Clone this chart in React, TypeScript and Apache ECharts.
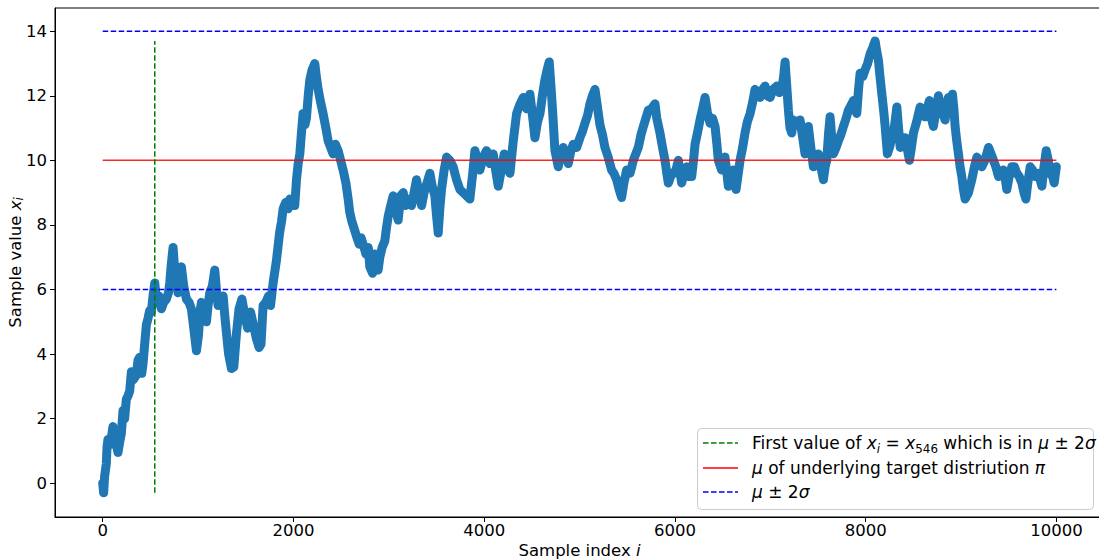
import React, { useEffect, useRef } from 'react';
import * as echarts from 'echarts';

// Trace of the sampler: sample index i and the value x_i
const sampleIndex = [
  0, 10, 20, 38, 45, 55, 80, 108, 130, 160, 180, 196, 213, 230, 248, 265, 283, 301, 320, 353,
  370, 388, 410, 423, 440, 458, 475, 493, 510, 528, 546, 563, 590, 616, 640, 668, 690, 703, 720, 738,
  755, 775, 790, 810, 825, 850, 878, 905, 930, 955, 983, 1005, 1020, 1035, 1060, 1088, 1105, 1123, 1150, 1175,
  1195, 1210, 1240, 1263, 1280, 1298, 1320, 1350, 1375, 1403, 1430, 1460, 1490, 1520, 1550, 1580, 1610, 1640, 1660, 1682,
  1710, 1740, 1760, 1787, 1822, 1845, 1857, 1875, 1892, 1920, 1945, 1962, 1990, 2014, 2032, 2050, 2067, 2084, 2101, 2120,
  2136, 2155, 2172, 2195, 2224, 2240, 2259, 2285, 2311, 2340, 2364, 2390, 2416, 2440, 2469, 2495, 2521, 2550, 2574, 2590,
  2609, 2635, 2661, 2690, 2710, 2731, 2760, 2785, 2801, 2830, 2853, 2870, 2888, 2906, 2930, 2958, 2975, 2993, 3020, 3046,
  3070, 3098, 3125, 3151, 3175, 3200, 3238, 3265, 3291, 3315, 3344, 3370, 3400, 3431, 3455, 3483, 3500, 3518, 3535, 3553,
  3580, 3606, 3640, 3675, 3710, 3745, 3780, 3815, 3850, 3880, 3903, 3930, 3955, 3990, 4025, 4060, 4095, 4120, 4148, 4180,
  4210, 4235, 4270, 4305, 4340, 4370, 4410, 4445, 4480, 4510, 4532, 4560, 4585, 4610, 4637, 4660, 4682, 4700, 4717, 4742,
  4777, 4800, 4829, 4855, 4882, 4910, 4934, 4970, 5004, 5030, 5057, 5085, 5109, 5135, 5162, 5190, 5214, 5240, 5266, 5300,
  5336, 5360, 5389, 5415, 5441, 5465, 5494, 5530, 5564, 5590, 5616, 5645, 5669, 5695, 5721, 5755, 5791, 5810, 5843, 5870,
  5896, 5915, 5931, 5955, 5983, 6010, 6036, 6055, 6071, 6095, 6123, 6150, 6176, 6195, 6211, 6240, 6263, 6290, 6316, 6340,
  6368, 6395, 6421, 6440, 6455, 6490, 6525, 6545, 6560, 6590, 6613, 6641, 6660, 6683, 6710, 6735, 6760, 6788, 6815, 6840,
  6865, 6893, 6920, 6945, 6970, 6998, 7030, 7068, 7095, 7120, 7140, 7155, 7175, 7190, 7207, 7225, 7242, 7277, 7312, 7340,
  7364, 7380, 7399, 7425, 7452, 7480, 7504, 7530, 7557, 7575, 7592, 7610, 7627, 7645, 7662, 7690, 7714, 7740, 7767, 7795,
  7819, 7845, 7872, 7890, 7907, 7925, 7942, 7970, 7994, 8020, 8047, 8075, 8099, 8115, 8134, 8150, 8170, 8190, 8204, 8228,
  8250, 8274, 8300, 8327, 8345, 8362, 8390, 8414, 8440, 8459, 8480, 8501, 8535, 8571, 8600, 8623, 8645, 8668, 8690, 8710,
  8735, 8763, 8790, 8833, 8850, 8868, 8890, 8910, 8925, 8938, 8955, 8973, 8990, 9008, 9025, 9043, 9060, 9078, 9095, 9113,
  9140, 9166, 9190, 9218, 9250, 9288, 9315, 9340, 9365, 9393, 9420, 9445, 9465, 9480, 9505, 9533, 9560, 9585, 9610, 9638,
  9660, 9680, 9700, 9725, 9750, 9778, 9810, 9848, 9870, 9893, 9915, 9935, 9960, 9977, 9999,
];
const sampleValue = [
  0.0, -0.3, 0.2, 0.6, 1.1, 1.35, 1.2, 1.75, 1.4, 0.95, 1.3, 1.55, 2.25, 2.0, 2.6, 2.7, 2.85, 3.45, 3.2, 3.35,
  3.8, 3.9, 3.4, 3.7, 4.3, 4.9, 5.1, 5.35, 5.3, 5.8, 6.2, 5.7, 5.8, 5.4, 5.6, 5.7, 5.9, 6.2, 6.8, 7.3,
  6.6, 6.3, 5.9, 6.4, 6.7, 6.1, 5.7, 5.6, 5.4, 4.8, 4.1, 4.6, 5.3, 5.6, 5.2, 5.0, 5.5, 5.9, 6.1, 6.6,
  5.9, 5.5, 5.7, 5.8, 5.2, 4.65, 4.0, 3.55, 3.6, 4.65, 5.4, 5.7, 5.2, 4.8, 5.3, 4.9, 4.5, 4.2, 4.3, 5.5,
  5.6, 5.8, 5.5, 6.2, 6.9, 7.5, 7.8, 8.1, 8.5, 8.7, 8.5, 8.8, 8.6, 8.6, 9.4, 9.9, 10.2, 10.85, 11.45, 11.1,
  11.3, 12.0, 12.5, 12.8, 13.0, 12.6, 12.2, 11.8, 11.45, 11.0, 10.6, 10.4, 10.2, 10.5, 10.3, 10.0, 9.7, 9.3, 8.8, 8.4,
  8.15, 7.9, 7.65, 7.4, 7.6, 7.4, 7.1, 7.3, 6.7, 6.5, 7.1, 6.8, 6.6, 7.0, 7.3, 7.5, 7.9, 8.25, 8.6, 8.9,
  8.5, 8.15, 8.9, 9.0, 8.6, 8.8, 8.6, 9.0, 9.4, 9.0, 8.6, 9.0, 9.3, 9.6, 9.2, 8.9, 8.3, 7.75, 8.5, 9.1,
  9.7, 10.1, 10.0, 9.8, 9.4, 9.1, 9.0, 8.9, 8.8, 9.6, 10.3, 10.0, 9.7, 10.1, 10.3, 9.9, 10.2, 9.7, 9.2, 9.7,
  10.2, 9.8, 9.6, 10.6, 11.45, 11.7, 11.95, 11.6, 12.05, 11.3, 10.7, 11.2, 11.45, 12.0, 12.5, 12.8, 13.05, 12.3, 11.55, 10.3,
  9.8, 10.2, 10.4, 10.1, 9.9, 10.3, 10.5, 10.4, 10.7, 10.9, 11.15, 11.4, 11.75, 12.0, 12.2, 11.6, 11.1, 10.8, 10.4, 10.1,
  9.7, 9.6, 9.4, 9.1, 8.85, 9.3, 9.7, 9.6, 10.0, 10.2, 10.4, 10.8, 11.05, 11.3, 11.55, 11.6, 11.75, 11.3, 10.85, 10.4,
  10.0, 9.6, 9.3, 9.5, 9.6, 9.7, 10.0, 9.6, 9.3, 9.6, 9.8, 9.5, 9.5, 10.0, 10.5, 10.9, 11.25, 11.6, 11.95, 11.5,
  11.15, 11.3, 11.05, 10.5, 10.0, 9.7, 10.1, 9.6, 9.2, 9.6, 9.7, 9.1, 9.5, 10.0, 10.4, 10.85, 11.2, 11.45, 11.8, 12.2,
  12.0, 11.95, 12.2, 12.3, 12.0, 11.95, 12.2, 12.3, 12.1, 12.2, 12.6, 13.05, 12.2, 11.55, 11.0, 10.85, 11.25, 11.15, 11.25, 10.7,
  10.2, 10.6, 11.05, 10.4, 9.8, 10.0, 10.2, 9.8, 9.4, 9.8, 10.0, 10.8, 11.35, 10.7, 10.2, 10.4, 10.6, 10.8, 11.05, 11.3,
  11.55, 11.7, 11.85, 11.6, 11.45, 12.2, 12.7, 12.6, 12.8, 13.0, 13.3, 13.5, 13.7, 13.4, 13.1, 12.6, 12.05, 11.5, 11.05, 10.2,
  10.4, 10.7, 11.0, 11.65, 11.0, 10.4, 10.6, 10.7, 10.3, 10.0, 10.4, 10.85, 11.2, 11.65, 11.4, 11.35, 11.6, 11.85, 11.3, 11.05,
  11.5, 12.0, 11.6, 11.25, 11.7, 11.95, 11.8, 12.05, 11.6, 11.05, 10.6, 10.2, 9.8, 9.5, 9.1, 8.8, 8.9, 9.0, 9.2, 9.4,
  9.8, 10.1, 10.0, 9.8, 10.0, 10.4, 10.2, 10.0, 9.8, 9.5, 9.6, 9.7, 9.4, 9.1, 9.5, 9.8, 9.8, 9.6, 9.5, 9.3,
  9.0, 8.8, 9.3, 9.8, 9.7, 9.5, 9.6, 9.2, 9.8, 10.3, 10.0, 9.6, 9.5, 9.3, 9.8,
];

const mu = 10;
const sigma = 2;
const firstInBandIndex = 546;
const nSamples = 10000;
const xTicks = [0, 2000, 4000, 6000, 8000, 10000];
const yTicks = [0, 2, 4, 6, 8, 10, 12, 14];

const FONT = 'DejaVu Sans';
const FS = 16.5;

const makeRich = (fs: number, lh: number) => ({
  n: { fontFamily: FONT, fontSize: fs, color: '#000', lineHeight: lh },
  m: { fontFamily: FONT, fontSize: fs, color: '#000', fontStyle: 'italic', lineHeight: lh },
  s: { fontFamily: FONT, fontSize: fs * 0.7, color: '#000', fontStyle: 'italic', lineHeight: fs * 0.7, verticalAlign: 'bottom' },
  d: { fontFamily: FONT, fontSize: fs * 0.7, color: '#000', lineHeight: fs * 0.7, verticalAlign: 'bottom' },
});
const axisRich = makeRich(FS, 19);
const legendRich = makeRich(17, 24);

export default function App() {
  const ref = useRef<HTMLDivElement>(null);

  useEffect(() => {
    if (!ref.current) return;
    const chart = echarts.init(ref.current, undefined, { renderer: 'svg' });
    const trace = sampleIndex.map((x, k) => [x, sampleValue[k]]);
    const vMin = Math.min(...sampleValue);
    const vMax = Math.max(...sampleValue);

    const axisCommon = {
      type: 'value' as const,
      splitLine: { show: false },
      axisLine: { show: true, onZero: false, lineStyle: { color: '#000', width: 1 } },
      nameMoveOverlap: false,
    };

    chart.setOption({
      animation: false,
      grid: {
        left: 55, top: 8, width: 1049, height: 509,
        containLabel: false,
        outerBoundsMode: 'none',
        show: true, borderColor: '#000', borderWidth: 1, backgroundColor: 'transparent',
      },
      xAxis: {
        ...axisCommon,
        min: -500, max: 10499,
        axisTick: { show: true, customValues: xTicks, length: 5, lineStyle: { color: '#000' } },
        axisLabel: {
          customValues: xTicks, color: '#000', fontSize: FS, fontFamily: FONT, margin: 5,
          formatter: (v: number) => String(v),
        },
        name: '{n|Sample index }{m|i}',
        nameLocation: 'middle',
        nameGap: 24,
        nameTextStyle: { rich: axisRich },
      },
      yAxis: {
        ...axisCommon,
        min: -1.05, max: 14.72,
        axisTick: { show: true, customValues: yTicks, length: 5, lineStyle: { color: '#000' } },
        axisLabel: {
          customValues: yTicks, color: '#000', fontSize: FS, fontFamily: FONT, margin: 8,
          formatter: (v: number) => String(v),
        },
        name: '{n|Sample value }{m|x}{s|i}',
        nameLocation: 'middle',
        nameGap: 30,
        nameTextStyle: { rich: axisRich },
      },
      series: [
        {
          type: 'line', data: trace, symbol: 'none', silent: true, z: 2,
          lineStyle: { color: '#1f77b4', width: 9, cap: 'round', join: 'round' },
        },
        {
          type: 'line', data: [[0, mu], [nSamples, mu]], symbol: 'none', silent: true, z: 3,
          lineStyle: { color: '#ff0000', width: 1.5, opacity: 0.85 },
        },
        {
          type: 'line', data: [[0, mu + 2 * sigma], [nSamples, mu + 2 * sigma]], symbol: 'none', silent: true, z: 3,
          lineStyle: { color: '#0000ff', width: 1.5, type: [5.5, 2.5] },
        },
        {
          type: 'line', data: [[0, mu - 2 * sigma], [nSamples, mu - 2 * sigma]], symbol: 'none', silent: true, z: 3,
          lineStyle: { color: '#0000ff', width: 1.5, type: [5.5, 2.5] },
        },
        {
          type: 'line', data: [[firstInBandIndex, vMin], [firstInBandIndex, vMax]], symbol: 'none', silent: true, z: 3,
          lineStyle: { color: '#008000', width: 1.5, type: [5.5, 2.5] },
        },
      ],
      graphic: [
        {
          type: 'rect', left: 697, top: 428, z: 10,
          shape: { width: 396, height: 81, r: 4 },
          style: { fill: 'rgba(255,255,255,0.8)', stroke: '#cccccc', lineWidth: 1 },
        },
        { type: 'line', z: 11, shape: { x1: 703, y1: 443, x2: 738, y2: 443 }, style: { stroke: '#008000', lineWidth: 1.5, lineDash: [5.5, 2.5] } },
        { type: 'line', z: 11, shape: { x1: 703, y1: 468, x2: 738, y2: 468 }, style: { stroke: '#ff0000', lineWidth: 1.5 } },
        { type: 'line', z: 11, shape: { x1: 703, y1: 492, x2: 738, y2: 492 }, style: { stroke: '#0000ff', lineWidth: 1.5, lineDash: [5.5, 2.5] } },
        {
          type: 'text', x: 752, y: 443, z: 11,
          style: {
            text: `{n|First value of }{m|x}{s|i}{n| = }{m|x}{d|${firstInBandIndex}}{n| which is in }{m|μ}{n| ± 2}{m|σ}`,
            rich: legendRich, verticalAlign: 'middle',
          },
        },
        {
          type: 'text', x: 752, y: 468, z: 11,
          style: { text: '{m|μ}{n| of underlying target distriution }{m|π}', rich: legendRich, verticalAlign: 'middle' },
        },
        {
          type: 'text', x: 752, y: 492, z: 11,
          style: { text: '{m|μ}{n| ± 2}{m|σ}', rich: legendRich, verticalAlign: 'middle' },
        },
      ],
    });
    return () => chart.dispose();
  }, []);

  return (
    <div
      ref={ref}
      style={{ position: 'fixed', left: 0, top: 0, width: 1099, height: 560, background: '#fff' }}
    />
  );
}
